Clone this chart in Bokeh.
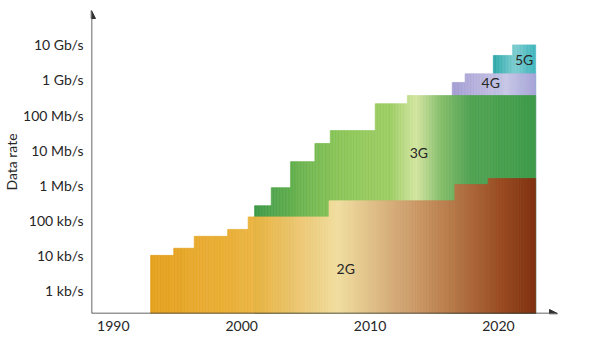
import numpy as np
from bokeh.plotting import figure
from bokeh.models import Range1d, FixedTicker, Arrow, NormalHead, ColumnDataSource
from bokeh.core.properties import value
from bokeh.embed import file_html
from bokeh.resources import INLINE

# ---- data ----
x_ticks = [1990, 2000, 2010, 2020]
y_ticks = [1e3, 1e4, 1e5, 1e6, 1e7, 1e8, 1e9, 1e10]
y_labels = ["1 kb/s", "10 kb/s", "100 kb/s", "1 Mb/s", "10 Mb/s", "100 Mb/s", "1 Gb/s", "10 Gb/s"]

years_2g = [1992.9, 1994.7, 1996.3, 1998.9, 2000.5, 2006.8, 2016.6, 2019.2]
rates_2g = [1.0e4, 1.6e4, 3.5e4, 5.5e4, 1.25e5, 3.6e5, 1.05e6, 1.55e6]
years_3g = [2001.0, 2002.3, 2003.8, 2005.7, 2006.9, 2010.4, 2012.9]
rates_3g = [2.6e5, 8.5e5, 4.7e6, 1.55e7, 3.6e7, 2.1e8, 3.6e8]
years_4g = [2016.4, 2017.4]
rates_4g = [8.5e8, 1.5e9]
years_5g = [2019.6, 2021.1]
rates_5g = [5.0e9, 1.0e10]
end_year = 2022.9

gen_names = ["2G", "3G", "4G", "5G"]
label_x = [2008.1, 2013.8, 2019.4, 2022.0]
label_y = [4.3e3, 8.5e6, 8.3e8, 3.9e9]

# ---- styling ----
X0, X1 = 1988.3, 2024.6
Y0, Y1 = 10 ** 2.343, 10 ** 10.98
FONT = "Lato"
INK = "#262626"

grad_2g = [(1992.9, "#E4A01C"), (2000.7, "#EBB33E"), (2004.6, "#F0C978"),
           (2007.5, "#F4DFA3"), (2012.4, "#D3A574"), (2016.3, "#BA7A4A"),
           (2020.2, "#9D4B22"), (2022.9, "#823012")]
grad_3g = [(2001.0, "#3D9947"), (2004.6, "#6BB34F"), (2007.7, "#8BC556"),
           (2011.6, "#9DCD63"), (2013.6, "#D3E5A0"), (2015.5, "#86BE6A"),
           (2017.8, "#52A552"), (2022.9, "#3D9B48")]
grad_4g = [(2016.4, "#A29CD2"), (2018.6, "#B8B4DE"), (2020.6, "#CAC8E7"), (2022.9, "#A9A5D9")]
grad_5g = [(2019.6, "#27A6A7"), (2021.3, "#7DCDD0"), (2022.9, "#3DB4BD")]


def hex2rgb(h):
    h = h.lstrip("#")
    return np.array([int(h[i:i + 2], 16) for i in (0, 2, 4)], dtype=float)


def color_at(x, stops):
    xs = [s[0] for s in stops]
    if x <= xs[0]:
        c = hex2rgb(stops[0][1])
    elif x >= xs[-1]:
        c = hex2rgb(stops[-1][1])
    else:
        i = np.searchsorted(xs, x) - 1
        t = (x - xs[i]) / (xs[i + 1] - xs[i])
        c = hex2rgb(stops[i][1]) * (1 - t) + hex2rgb(stops[i + 1][1]) * t
    return "#%02x%02x%02x" % tuple(int(round(v)) for v in c)


def strips(starts, rates, end, stops, step=0.12):
    edges = list(starts) + [end]
    L, R, T, C = [], [], [], []
    for i in range(len(starts)):
        a, b = edges[i], edges[i + 1]
        n = max(1, int(np.ceil((b - a) / step)))
        xs = np.linspace(a, b, n + 1)
        for j in range(n):
            L.append(xs[j])
            R.append(xs[j + 1])
            T.append(rates[i])
            C.append(color_at(0.5 * (xs[j] + xs[j + 1]), stops))
    return ColumnDataSource(dict(left=L, right=R, top=T, bottom=[Y0] * len(L), color=C))


p = figure(width=600, height=345, x_range=Range1d(X0, X1), y_range=Range1d(Y0, Y1),
           y_axis_type="log", output_backend="svg", toolbar_location=None,
           min_border_left=90, min_border_right=43, min_border_top=10, min_border_bottom=32)

# back to front: 5G, 4G, 3G, 2G
for yrs, rts, grad in [(years_5g, rates_5g, grad_5g), (years_4g, rates_4g, grad_4g),
                       (years_3g, rates_3g, grad_3g), (years_2g, rates_2g, grad_2g)]:
    src = strips(yrs, rts, end_year, grad)
    p.quad(left="left", right="right", top="top", bottom="bottom", source=src,
           fill_color="color", line_color="color", line_width=0.6)

p.text(x=label_x, y=label_y, text=gen_names, text_align="center", text_baseline="middle",
       text_font=value(FONT), text_font_size="14px", text_color=INK)

# axes
p.xaxis.ticker = FixedTicker(ticks=x_ticks, minor_ticks=[])
p.yaxis.ticker = FixedTicker(ticks=y_ticks, minor_ticks=[])
p.yaxis.major_label_overrides = {v: s for v, s in zip(y_ticks, y_labels)}
for ax in (p.xaxis, p.yaxis):
    ax.axis_line_color = None
    ax.major_tick_line_color = None
    ax.minor_tick_line_color = None
    ax.major_tick_out = 0
    ax.major_tick_in = 0
    ax.minor_tick_out = 0
    ax.minor_tick_in = 0
    ax.major_label_text_font = FONT
    ax.major_label_text_font_size = "14px"
    ax.major_label_text_color = INK
    ax.major_label_standoff = 8
p.xaxis.major_label_standoff = 7
p.yaxis.axis_label = "Data rate"
p.yaxis.axis_label_text_font = FONT
p.yaxis.axis_label_text_font_size = "14px"
p.yaxis.axis_label_text_font_style = "normal"
p.yaxis.axis_label_text_color = INK
p.yaxis.axis_label_standoff = 0

p.grid.visible = False
p.outline_line_color = None

# axis arrows
p.add_layout(Arrow(end=NormalHead(size=8, fill_color="#333333", line_color="#333333"),
                   x_start=X0, y_start=Y0, x_end=X1, y_end=Y0,
                   line_color="#333333", line_width=1.5))
p.add_layout(Arrow(end=NormalHead(size=8, fill_color="#333333", line_color="#333333"),
                   x_start=X0, y_start=Y0, x_end=X0, y_end=Y1,
                   line_color="#333333", line_width=1.5))

open("out.html", "w").write(file_html(p, INLINE))
